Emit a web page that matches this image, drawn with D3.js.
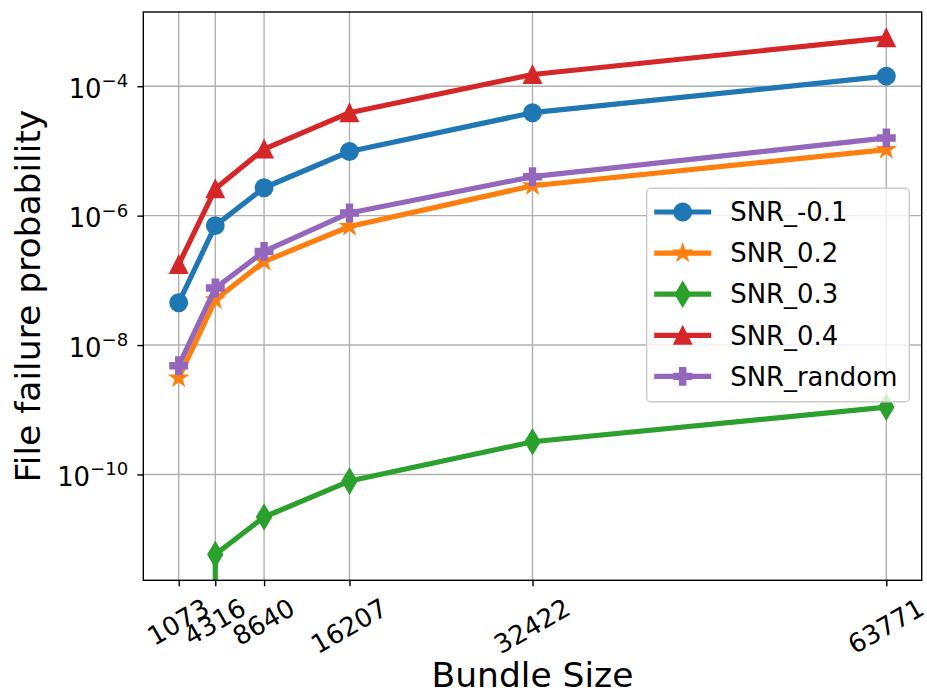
<!DOCTYPE html>
<html>
<head>
<meta charset="utf-8">
<script src="https://cdn.jsdelivr.net/npm/d3@7"></script>
<style>
  body { margin: 0; background: #fff; }
  text { font-family: "DejaVu Sans", sans-serif; fill: #000; }
</style>
</head>
<body>
<div id="container"></div>
<script>
const w = 927,
    h = 694,
    plot = {left: 143.3, right: 921.7, top: 12, bottom: 580.3},
    tickFont = 25.9,
    labelFont = 34.5,
    lineWidth = 5.2,
    markerSize = 17.2;

// data
const bundleSizes = [1073, 4316, 8640, 16207, 32422, 63771];
const snrNeg01 = [4.5e-8, 7.0e-7, 2.7e-6, 9.8e-6, 3.9e-5, 1.43e-4];
const snr02 = [3.1e-9, 5.0e-8, 1.95e-7, 6.8e-7, 2.9e-6, 1.05e-5];
const snr03 = [0, 5.8e-12, 2.2e-11, 7.9e-11, 3.2e-10, 1.1e-9];
const snr04 = [1.75e-7, 2.6e-6, 1.07e-5, 3.9e-5, 1.52e-4, 5.6e-4];
const snrRandom = [4.8e-9, 7.6e-8, 2.8e-7, 1.1e-6, 4.0e-6, 1.59e-5];
const seriesNames = ["SNR_-0.1", "SNR_0.2", "SNR_0.3", "SNR_0.4", "SNR_random"];
const seriesColors = ["#1f77b4", "#ff7f0e", "#2ca02c", "#d62728", "#9467bd"];
const seriesMarkers = ["circle", "star", "thinDiamond", "triangle", "plus"];
const yTickExponents = [-10, -8, -6, -4];

const allSeries = [snrNeg01, snr02, snr03, snr04, snrRandom];

var svg = d3.select("div#container")
    .append("svg")
    .attr("width", w)
    .attr("height", h)
    .style("display", "block");

// matplotlib-like 5% margins (log space for y)
var xr = d3.max(bundleSizes) - d3.min(bundleSizes);
var x = d3.scaleLinear()
    .domain([d3.min(bundleSizes) - 0.05 * xr, d3.max(bundleSizes) + 0.05 * xr])
    .range([plot.left, plot.right]);

var positives = allSeries.flat().filter(v => v > 0);
var lmin = Math.log10(d3.min(positives)),
    lmax = Math.log10(d3.max(positives)),
    lr = lmax - lmin;
var y = d3.scaleLog()
    .domain([Math.pow(10, lmin - 0.05 * lr), Math.pow(10, lmax + 0.05 * lr)])
    .range([plot.bottom, plot.top]);

svg.append("clipPath").attr("id", "clip")
    .append("rect")
    .attr("x", plot.left).attr("y", plot.top)
    .attr("width", plot.right - plot.left).attr("height", plot.bottom - plot.top);

// grid
var grid = svg.append("g").style("stroke", "#b0b0b0").style("stroke-width", 1.4);
grid.selectAll(".gx").data(bundleSizes).enter().append("line")
    .attr("x1", d => x(d)).attr("x2", d => x(d))
    .attr("y1", plot.top).attr("y2", plot.bottom);
grid.selectAll(".gy").data(yTickExponents).enter().append("line")
    .attr("y1", d => y(Math.pow(10, d))).attr("y2", d => y(Math.pow(10, d)))
    .attr("x1", plot.left).attr("x2", plot.right);

// marker shapes (matplotlib proportions)
function markerPath(type, s) {
    var r = s / 2;
    if (type === "circle") {
        return d3.symbol().type(d3.symbolCircle).size(Math.PI * r * r)();
    }
    if (type === "triangle") {
        return "M0," + (-r) + "L" + (-r) + "," + r + "L" + r + "," + r + "Z";
    }
    if (type === "thinDiamond") {
        var hh = s * Math.SQRT1_2, ww = hh * 0.6;
        return "M0," + (-hh) + "L" + ww + ",0L0," + hh + "L" + (-ww) + ",0Z";
    }
    if (type === "star") {
        var pts = [];
        for (var i = 0; i < 10; i++) {
            var rad = i % 2 === 0 ? r : r * 0.381966;
            var a = -Math.PI / 2 + i * Math.PI / 5;
            pts.push([rad * Math.cos(a), rad * Math.sin(a)]);
        }
        return "M" + pts.map(p => p[0].toFixed(2) + "," + p[1].toFixed(2)).join("L") + "Z";
    }
    if (type === "plus") {
        var t = s / 6;
        var p = [[-t, -r], [t, -r], [t, -t], [r, -t], [r, t], [t, t], [t, r], [-t, r], [-t, t], [-r, t], [-r, -t], [-t, -t]];
        return "M" + p.map(q => q.join(",")).join("L") + "Z";
    }
}

// lines + markers
var plotArea = svg.append("g").attr("clip-path", "url(#clip)");
var line = d3.line()
    .x(d => x(d.x))
    .y(d => d.y > 0 ? y(d.y) : plot.bottom + 1e5); // nonpositive clipped far below, like matplotlib

allSeries.forEach(function (vals, i) {
    var pts = bundleSizes.map((b, j) => ({x: b, y: vals[j]}));
    var g = plotArea.append("g");
    g.append("path")
        .datum(pts)
        .attr("fill", "none")
        .attr("stroke", seriesColors[i])
        .attr("stroke-width", lineWidth)
        .attr("stroke-linejoin", "round")
        .attr("stroke-linecap", "square")
        .attr("d", line);
    g.selectAll("path.m")
        .data(pts.filter(d => d.y > 0))
        .enter().append("path")
        .attr("class", "m")
        .attr("transform", d => "translate(" + x(d.x) + "," + y(d.y) + ")")
        .attr("d", markerPath(seriesMarkers[i], markerSize))
        .style("fill", seriesColors[i])
        .style("stroke", seriesColors[i])
        .style("stroke-width", 1.7);
});

// spines
svg.append("rect")
    .attr("x", plot.left).attr("y", plot.top)
    .attr("width", plot.right - plot.left).attr("height", plot.bottom - plot.top)
    .style("fill", "none").style("stroke", "#000").style("stroke-width", 1.4);

// x axis
var xAxis = svg.append("g")
    .attr("transform", "translate(0," + plot.bottom + ")")
    .call(d3.axisBottom(x).tickValues(bundleSizes).tickFormat(d3.format("d")).tickSize(6).tickPadding(0));
xAxis.select(".domain").remove();
xAxis.selectAll("line").style("stroke", "#000").style("stroke-width", 1.4);
xAxis.selectAll("text")
    .attr("y", 0).attr("dy", "0.35em")
    .style("font-size", tickFont + "px")
    .style("font-family", "DejaVu Sans")
    .attr("text-anchor", "middle")
    .each(function () {
        var tw = this.getComputedTextLength(),
            th = tickFont * 1.164,
            bh = tw * 0.5 + th * Math.cos(Math.PI / 6);
        d3.select(this).attr("transform", "translate(-1," + (12 + bh / 2) + ") rotate(-30)");
    });

// y axis
var yAxis = svg.append("g")
    .attr("transform", "translate(" + plot.left + ",0)")
    .call(d3.axisLeft(y).tickValues(yTickExponents.map(e => Math.pow(10, e))).tickFormat("").tickSize(6));
yAxis.select(".domain").remove();
yAxis.selectAll("line").style("stroke", "#000").style("stroke-width", 1.4);

var yLabels = svg.append("g");
yTickExponents.forEach(function (e) {
    var t = yLabels.append("text")
        .attr("x", plot.left - 15)
        .attr("y", y(Math.pow(10, e)) + 11.5)
        .attr("text-anchor", "end")
        .style("font-size", tickFont + "px");
    t.append("tspan").text("10");
    t.append("tspan")
        .attr("dy", -10.5)
        .style("font-size", (tickFont * 0.7) + "px")
        .text("\u2212" + Math.abs(e));
});

// axis titles
svg.append("text")
    .attr("x", (plot.left + plot.right) / 2)
    .attr("y", 687)
    .attr("text-anchor", "middle")
    .style("font-size", labelFont + "px")
    .text("Bundle Size");
svg.append("text")
    .attr("transform", "translate(40," + ((plot.top + plot.bottom) / 2) + ") rotate(-90)")
    .attr("text-anchor", "middle")
    .style("font-size", labelFont + "px")
    .text("File failure probability");

// legend
var legend = svg.append("g").attr("transform", "translate(646.7,188.3)");
legend.append("rect")
    .attr("width", 262.6).attr("height", 213.4)
    .attr("rx", 4).attr("ry", 4)
    .style("fill", "#fff").style("fill-opacity", 0.8)
    .style("stroke", "#cccccc").style("stroke-width", 1.4);
seriesNames.forEach(function (name, i) {
    var ry = 23.7 + i * 41.1;
    var item = legend.append("g").attr("transform", "translate(0," + ry + ")");
    item.append("line")
        .attr("x1", 7.5).attr("x2", 64.5)
        .style("stroke", seriesColors[i]).style("stroke-width", lineWidth);
    item.append("path")
        .attr("transform", "translate(36,0)")
        .attr("d", markerPath(seriesMarkers[i], markerSize))
        .style("fill", seriesColors[i])
        .style("stroke", seriesColors[i])
        .style("stroke-width", 1.7);
    item.append("text")
        .attr("x", 83.5)
        .attr("y", 9.2)
        .style("font-size", tickFont + "px")
        .text(name);
});
</script>
</body>
</html>
